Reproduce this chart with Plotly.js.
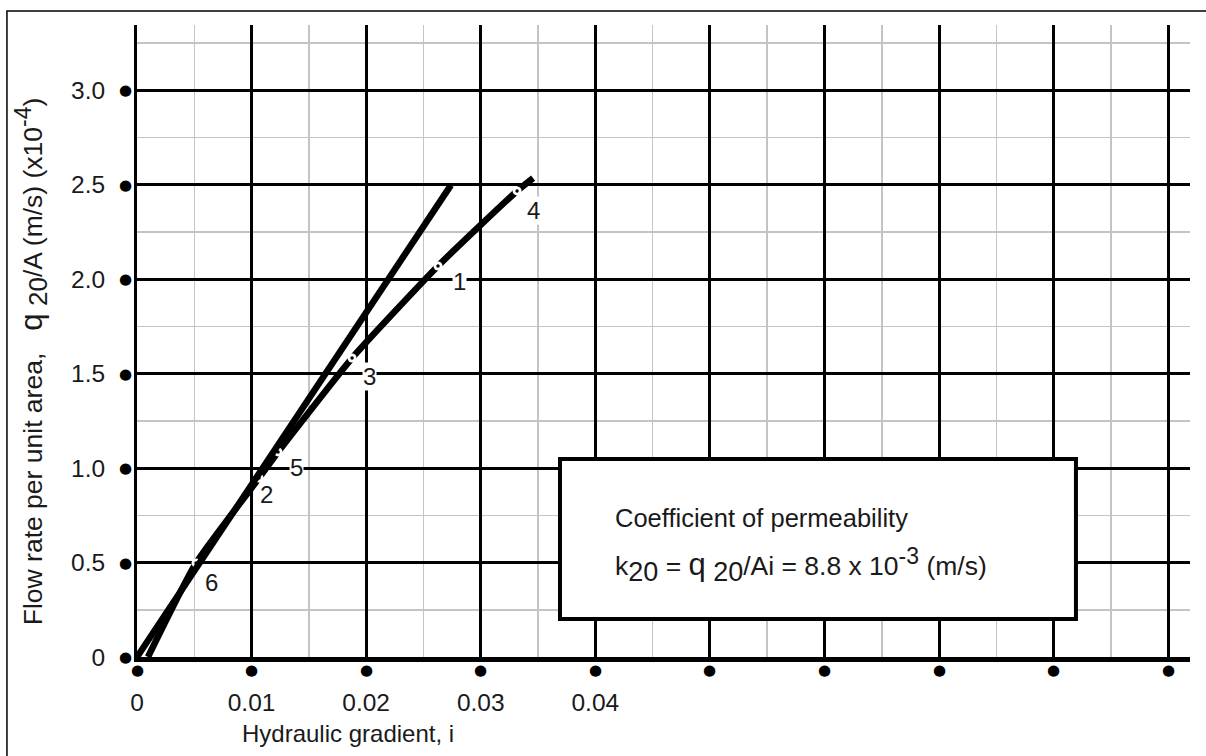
<!DOCTYPE html>
<html>
<head>
<meta charset="utf-8">
<script src="https://cdn.plot.ly/plotly-3.0.1.min.js"></script>
<style>html,body{margin:0;padding:0;background:#fff;}#chart{width:1206px;height:756px;}</style>
</head>
<body>
<div id="chart"></div>
<script>
// ---- data ----
var testLabels   = ['6', '2', '5', '3', '1', '4'];
var testGradient = [0.00515, 0.01065, 0.01231, 0.01877, 0.02627, 0.03317];
var testFlow     = [0.497, 0.947, 1.085, 1.582, 2.069, 2.466];

// fitted curve through the tests
var curveGradient = [0.00096, 0.00515, 0.01065, 0.01231, 0.01877, 0.02627, 0.03317, 0.03457];
var curveFlow     = [0, 0.497, 0.947, 1.085, 1.582, 2.069, 2.466, 2.534];

// straight line k20 = q20/Ai
var lineGradient = [0, 0.0274];
var lineFlow     = [0, 2.497];

// axis ticks
var xTickVals  = [0, 0.01, 0.02, 0.03, 0.04, 0.05, 0.06, 0.07, 0.08, 0.09];
var xTickText  = ['0', '0.01', '0.02', '0.03', '0.04', '', '', '', '', ''];
var yTickVals  = [0, 0.5, 1.0, 1.5, 2.0, 2.5, 3.0];
var yTickText  = ['0', '0.5', '1.0', '1.5', '2.0', '2.5', '3.0'];
var xMinorVals = [0.005, 0.015, 0.025, 0.035, 0.045, 0.055, 0.065, 0.075, 0.085];
var yMinorVals = [0.25, 0.75, 1.25, 1.75, 2.25, 2.75, 3.25];

// label offsets (pixels) for test numbers
var labelShiftX = [15, 7, 18, 17, 21, 16];
var labelShiftY = [-19, -16, -16, -18, -16, -20];

var FONT = 'Liberation Sans, Arial, Helvetica, sans-serif';
var TXT = '#1a1a1a';

var traces = [
  { x: curveGradient, y: curveFlow, mode: 'lines', type: 'scatter',
    line: { color: '#000', width: 6.5, shape: 'spline', smoothing: 0.5 }, hoverinfo: 'skip' },
  { x: testGradient, y: testFlow, mode: 'markers', type: 'scatter',
    marker: { color: '#fff', size: 9, line: { width: 0 } }, hoverinfo: 'skip' },
  { x: testGradient, y: testFlow, mode: 'markers', type: 'scatter',
    marker: { color: '#000', size: 3.5, line: { width: 0 } }, hoverinfo: 'skip' },
  { x: lineGradient, y: lineFlow, mode: 'lines', type: 'scatter',
    line: { color: '#000', width: 6.5 }, hoverinfo: 'skip' }
];

var annotations = [];
// test number labels
for (var i = 0; i < testLabels.length; i++) {
  annotations.push({ x: testGradient[i], y: testFlow[i], xref: 'x', yref: 'y',
    text: testLabels[i], showarrow: false, xshift: labelShiftX[i], yshift: labelShiftY[i],
    xanchor: 'center', yanchor: 'middle',
    bgcolor: '#fff', borderpad: 0, font: { family: FONT, size: 24, color: TXT } });
}
// dot tick marks
xTickVals.forEach(function (v) {
  annotations.push({ x: v, y: 0, xref: 'x', yref: 'y', text: '\u25CF', showarrow: false,
    xanchor: 'center', yanchor: 'middle',
    yshift: -13, font: { family: 'DejaVu Sans', size: 15, color: '#000' } });
});
yTickVals.forEach(function (v) {
  annotations.push({ x: 0, y: v, xref: 'x', yref: 'y', text: '\u25CF', showarrow: false,
    xanchor: 'center', yanchor: 'middle',
    xshift: -12, font: { family: 'DejaVu Sans', size: 15, color: '#000' } });
});
// axis titles
annotations.push({ xref: 'paper', yref: 'paper', x: 0.2, y: -0.121, xanchor: 'center', yanchor: 'middle',
  showarrow: false, text: 'Hydraulic gradient, i', font: { family: FONT, size: 24, color: TXT } });
annotations.push({ xref: 'paper', yref: 'paper', x: -0.0997, y: 0.468, xanchor: 'center', yanchor: 'middle',
  showarrow: false, textangle: -90,
  text: 'Flow rate per unit area,   <span style="font-size:31px">q</span> <sub><span style="font-size:26px">20</span></sub>/A (m/s) (x10<sup><span style="font-size:23px">-4</span></sup>)',
  font: { family: FONT, size: 26.5, color: TXT } });
// box text
annotations.push({ xref: 'paper', yref: 'paper', x: 0.452, y: 0.22, xanchor: 'left', yanchor: 'middle', showarrow: false,
  text: 'Coefficient of permeability', font: { family: FONT, size: 25.5, color: TXT } });
annotations.push({ xref: 'paper', yref: 'paper', x: 0.452, y: 0.145, xanchor: 'left', yanchor: 'middle', showarrow: false,
  text: 'k<sub><span style="font-size:27px">20</span></sub> = <span style="font-size:31px">q</span> <sub><span style="font-size:27px">20</span></sub>/Ai = 8.8 x 10<sup><span style="font-size:23px">-3</span></sup> (m/s)',
  font: { family: FONT, size: 26.5, color: TXT } });

var layout = {
  width: 1206, height: 756,
  margin: { l: 137, r: 16, t: 25, b: 99, pad: 0 },
  paper_bgcolor: '#fff', plot_bgcolor: '#fff',
  showlegend: false,
  xaxis: {
    range: [0, 0.0919], tickmode: 'array', tickvals: xTickVals, ticktext: xTickText,
    ticks: 'outside', ticklen: 20, tickcolor: 'rgba(0,0,0,0)',
    tickfont: { family: FONT, size: 24.5, color: TXT },
    showgrid: true, gridcolor: '#000', gridwidth: 3,
    minor: { tickmode: 'array', tickvals: xMinorVals, showgrid: true, gridcolor: '#c4c4c4', gridwidth: 1.5, ticks: '' },
    showline: true, linecolor: '#000', linewidth: 5, zeroline: false, fixedrange: true
  },
  yaxis: {
    range: [0, 3.344], tickmode: 'array', tickvals: yTickVals, ticktext: yTickText,
    ticks: 'outside', ticklen: 24, tickcolor: 'rgba(0,0,0,0)',
    tickfont: { family: FONT, size: 24.5, color: TXT },
    showgrid: true, gridcolor: '#000', gridwidth: 3,
    minor: { tickmode: 'array', tickvals: yMinorVals, showgrid: true, gridcolor: '#c4c4c4', gridwidth: 1.5, ticks: '' },
    showline: true, linecolor: '#000', linewidth: 3, zeroline: false, fixedrange: true
  },
  shapes: [
    { type: 'rect', xref: 'paper', yref: 'paper', x0: 0.4017, x1: 0.8917, y0: 0.0601, y1: 0.3133,
      line: { color: '#000', width: 4 }, fillcolor: '#fff', layer: 'above' },
    { type: 'rect', xref: 'paper', yref: 'paper', x0: -0.1235, x1: 1.03, y0: -0.2, y1: 1.0222,
      line: { color: '#000', width: 1.5 }, fillcolor: 'rgba(0,0,0,0)', layer: 'below' }
  ],
  annotations: annotations
};

Plotly.newPlot('chart', traces, layout, { staticPlot: true, displayModeBar: false });
</script>
</body>
</html>
